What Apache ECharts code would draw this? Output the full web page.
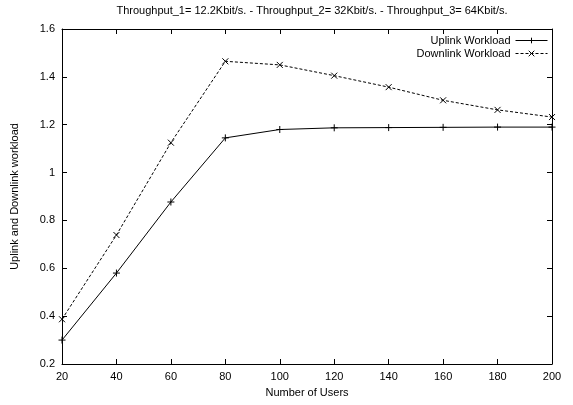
<!DOCTYPE html>
<html>
<head>
<meta charset="utf-8">
<script src="https://cdn.jsdelivr.net/npm/echarts@6/dist/echarts.min.js"></script>
<style>html,body{margin:0;padding:0;background:#fff}#c{width:573px;height:405px}</style>
</head>
<body>
<div id="c"></div>
<script>
var users = [20, 40, 60, 80, 100, 120, 140, 160, 180, 200];
var uplink = [0.30, 0.58, 0.877, 1.145, 1.18, 1.187, 1.188, 1.189, 1.19, 1.19];
var downlink = [0.387, 0.739, 1.125, 1.465, 1.45, 1.405, 1.357, 1.302, 1.262, 1.232];
var yTicks = [0.2, 0.4, 0.6, 0.8, 1, 1.2, 1.4, 1.6];
var xTicks = [20, 40, 60, 80, 100, 120, 140, 160, 180, 200];

var font = 'Liberation Sans';
function pairs(xs, ys) { return xs.map(function (x, i) { return [x, ys[i]]; }); }
var plusPath = 'path://M0,5L10,5M5,0L5,10';
var crossPath = 'path://M0,0L10,10M10,0L0,10';

var chart = echarts.init(document.getElementById('c'), null, {renderer: 'canvas'});
var axisLine = {show: true, lineStyle: {color: '#000', width: 1}};
chart.setOption({
  animation: false,
  backgroundColor: '#fff',
  textStyle: {fontFamily: font, color: '#000'},
  title: {
    text: 'Throughput_1= 12.2Kbit/s. - Throughput_2= 32Kbit/s. - Throughput_3= 64Kbit/s.',
    left: 307, top: 0, textAlign: 'center',
    textStyle: {fontFamily: font, fontSize: 11, fontWeight: 'normal', color: '#000'}
  },
  legend: {
    orient: 'vertical', right: 20, top: 30, align: 'right', padding: 5,
    itemWidth: 32, itemHeight: 7, itemGap: 2,
    textStyle: {fontFamily: font, fontSize: 11, color: '#000'},
    lineStyle: {width: 1},
    itemStyle: {borderWidth: 1},
    data: ['Uplink Workload', 'Downlink Workload']
  },
  grid: {left: 62, right: 21, top: 29, bottom: 41, containLabel: false},
  xAxis: [{
    type: 'value', min: xTicks[0], max: xTicks[xTicks.length - 1], interval: 20,
    name: 'Number of Users', nameLocation: 'middle', nameGap: 23,
    nameTextStyle: {fontFamily: font, fontSize: 11, color: '#000'},
    axisLine: axisLine,
    axisTick: {show: true, inside: true, length: 5, lineStyle: {color: '#000'}},
    axisLabel: {fontFamily: font, fontSize: 11, color: '#000', margin: 7},
    splitLine: {show: false}
  }, {
    type: 'value', position: 'top', min: xTicks[0], max: xTicks[xTicks.length - 1], interval: 20,
    axisLine: axisLine,
    axisTick: {show: true, inside: true, length: 5, lineStyle: {color: '#000'}},
    axisLabel: {show: false}, splitLine: {show: false}
  }],
  yAxis: [{
    type: 'value', min: yTicks[0], max: yTicks[yTicks.length - 1], interval: 0.2,
    name: 'Uplink and Downlink workload', nameLocation: 'middle', nameGap: 42, nameRotate: 90,
    nameTextStyle: {fontFamily: font, fontSize: 11, color: '#000'},
    axisLine: axisLine,
    axisTick: {show: true, inside: true, length: 5, lineStyle: {color: '#000'}},
    axisLabel: {fontFamily: font, fontSize: 11, color: '#000', margin: 7,
      formatter: function (v) { return String(Math.round(v * 10) / 10); }},
    splitLine: {show: false}
  }, {
    type: 'value', position: 'right', min: yTicks[0], max: yTicks[yTicks.length - 1], interval: 0.2,
    axisLine: axisLine,
    axisTick: {show: true, inside: true, length: 5, lineStyle: {color: '#000'}},
    axisLabel: {show: false}, splitLine: {show: false}
  }],
  series: [{
    name: 'Uplink Workload', type: 'line', xAxisIndex: 0, yAxisIndex: 0,
    data: pairs(users, uplink),
    symbol: plusPath, symbolSize: 7, showAllSymbol: true,
    lineStyle: {color: '#000', width: 1},
    itemStyle: {color: 'rgba(0,0,0,0)', borderColor: '#000', borderWidth: 1}
  }, {
    name: 'Downlink Workload', type: 'line', xAxisIndex: 0, yAxisIndex: 0,
    data: pairs(users, downlink),
    symbol: crossPath, symbolSize: 6, showAllSymbol: true,
    lineStyle: {color: '#000', width: 1, type: [3, 2]},
    itemStyle: {color: 'rgba(0,0,0,0)', borderColor: '#000', borderWidth: 1}
  }]
});
</script>
</body>
</html>
